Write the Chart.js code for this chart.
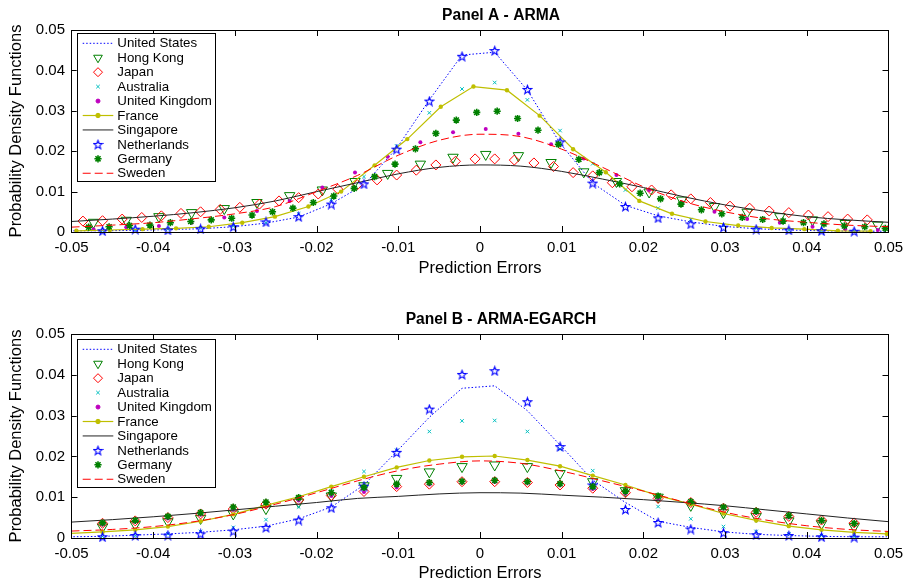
<!DOCTYPE html>
<html>
<head>
<meta charset="utf-8">
<title>Prediction error densities</title>
<script src="https://cdn.jsdelivr.net/npm/chart.js@4.4.0/dist/chart.umd.min.js"></script>
<style>
  html, body { margin: 0; padding: 0; background: #fff; overflow: hidden; }
  canvas { position: absolute; left: 0; }
</style>
</head>
<body>
<canvas id="panelA" width="912" height="292" style="top:0px"></canvas>
<canvas id="panelB" width="912" height="293" style="top:292px"></canvas>
<script>
// Axis ticks
const X_TICKS = [-0.05, -0.04, -0.03, -0.02, -0.01, 0, 0.01, 0.02, 0.03, 0.04, 0.05];
const Y_TICKS = [0, 0.01, 0.02, 0.03, 0.04, 0.05];

// Evaluation grids (prediction error values)
const GRID_N = [-0.0502, -0.0462, -0.0422, -0.0382, -0.0342, -0.0302, -0.0262, -0.0222, -0.0182, -0.0142, -0.0102, -0.0062, -0.0022,
  0.0018, 0.0058, 0.0098, 0.0138, 0.0178, 0.0218, 0.0258, 0.0298, 0.0338, 0.0378, 0.0418, 0.0458, 0.0498];
const GRID_H = [-0.0473, -0.0433, -0.0393, -0.0353, -0.0313, -0.0273, -0.0233, -0.0193, -0.0153, -0.0113, -0.0073, -0.0033,
  0.0007, 0.0047, 0.0087, 0.0127, 0.0167, 0.0207, 0.0247, 0.0287, 0.0327, 0.0367, 0.0407, 0.0447, 0.0487];
const GRID_J = [-0.0486, -0.0462, -0.0438, -0.0414, -0.0390, -0.0366, -0.0342, -0.0318, -0.0294, -0.0270, -0.0246, -0.0222, -0.0198,
  -0.0174, -0.0150, -0.0126, -0.0102, -0.0078, -0.0054, -0.0030, -0.0006, 0.0018, 0.0042, 0.0066, 0.0090, 0.0114, 0.0138,
  0.0162, 0.0186, 0.0210, 0.0234, 0.0258, 0.0282, 0.0306, 0.0330, 0.0354, 0.0378, 0.0402, 0.0426, 0.0450, 0.0474];
const GRID_G = [-0.0479, -0.0454, -0.0429, -0.0404, -0.0379, -0.0354, -0.0329, -0.0304, -0.0279, -0.0254, -0.0229, -0.0204, -0.0179,
  -0.0154, -0.0129, -0.0104, -0.0079, -0.0054, -0.0029, -0.0004, 0.0021, 0.0046, 0.0071, 0.0096, 0.0121, 0.0146, 0.0171,
  0.0196, 0.0221, 0.0246, 0.0271, 0.0296, 0.0321, 0.0346, 0.0371, 0.0396, 0.0421, 0.0446, 0.0471, 0.0496];
const GRID_F = [-0.0494, -0.0453, -0.0413, -0.0372, -0.0332, -0.0291, -0.0251, -0.0210, -0.0170, -0.0129, -0.0089, -0.0048,
  -0.0008, 0.0033, 0.0073, 0.0114, 0.0154, 0.0195, 0.0235, 0.0276, 0.0316, 0.0357, 0.0397, 0.0438, 0.0478];
const GRID_S = [-0.050, -0.045, -0.040, -0.035, -0.030, -0.025, -0.020, -0.015, -0.010, -0.005, 0,
  0.005, 0.010, 0.015, 0.020, 0.025, 0.030, 0.035, 0.040, 0.045, 0.050];

// Panel A - ARMA densities
const A_US = [0.0003, 0.0003, 0.0004, 0.0006, 0.0008, 0.0013, 0.0022, 0.0037, 0.0070, 0.0117, 0.0207, 0.0327, 0.0438,
  0.0445, 0.0351, 0.0220, 0.0121, 0.0066, 0.0040, 0.0025, 0.0014, 0.0008, 0.0005, 0.0003, 0.0002, 0.0002];
const A_HONG_KONG = [0.0024, 0.0029, 0.0038, 0.0048, 0.0058, 0.0073, 0.0090, 0.0104, 0.0125, 0.0145, 0.0168, 0.0185,
  0.0192, 0.0189, 0.0172, 0.0149, 0.0125, 0.0099, 0.0079, 0.0063, 0.0049, 0.0038, 0.0030, 0.0021, 0.0017];
const A_JAPAN = [0.0027, 0.0028, 0.0032, 0.0036, 0.0040, 0.0046, 0.0050, 0.0056, 0.0061, 0.0069, 0.0077, 0.0085, 0.0094,
  0.0106, 0.0117, 0.0129, 0.0141, 0.0153, 0.0166, 0.0175, 0.0181, 0.0181, 0.0178, 0.0171, 0.0162, 0.0147, 0.0139,
  0.0122, 0.0112, 0.0104, 0.0092, 0.0082, 0.0073, 0.0064, 0.0059, 0.0052, 0.0048, 0.0042, 0.0038, 0.0032, 0.0030];
const A_AUSTRALIA = [null, 0.0004, 0.0005, 0.0007, 0.0010, 0.0015, 0.0023, 0.0045, 0.0080, 0.0137, 0.0213, 0.0295, 0.0354,
  0.0370, 0.0327, 0.0251, 0.0169, 0.0104, 0.0059, 0.0031, 0.0016, 0.0009, 0.0005, 0.0003, 0.0002, null];
const A_UK = [0.0007, 0.0012, 0.0015, 0.0023, 0.0036, 0.0052, 0.0077, 0.0110, 0.0147, 0.0186, 0.0222, 0.0247,
  0.0255, 0.0243, 0.0217, 0.0182, 0.0141, 0.0104, 0.0073, 0.0050, 0.0032, 0.0023, 0.0013, 0.0007, 0.0005];
const A_FRANCE = [0.0003, 0.0005, 0.0007, 0.0009, 0.0013, 0.0023, 0.0038, 0.0063, 0.0100, 0.0165, 0.0230, 0.0310,
  0.0360, 0.0351, 0.0288, 0.0205, 0.0148, 0.0077, 0.0045, 0.0026, 0.0016, 0.0010, 0.0007, 0.0003, 0.0002];
const A_SINGAPORE = [0.0026, 0.0032, 0.0039, 0.0048, 0.0060, 0.0077, 0.0100, 0.0122, 0.0144, 0.0160, 0.0166,
  0.0163, 0.0150, 0.0131, 0.0110, 0.0087, 0.0067, 0.0051, 0.0038, 0.0030, 0.0024];
const A_NETHERLANDS = [null, 0.0003, 0.0007, 0.0005, 0.0008, 0.0013, 0.0025, 0.0038, 0.0069, 0.0119, 0.0205, 0.0324, 0.0435,
  0.0449, 0.0353, 0.0223, 0.0121, 0.0063, 0.0035, 0.0020, 0.0012, 0.0007, 0.0005, 0.0003, 0.0002, null];
const A_GERMANY = [0.0012, 0.0013, 0.0016, 0.0017, 0.0023, 0.0026, 0.0030, 0.0034, 0.0042, 0.0050, 0.0059, 0.0073, 0.0089,
  0.0108, 0.0137, 0.0168, 0.0206, 0.0244, 0.0277, 0.0296, 0.0299, 0.0281, 0.0252, 0.0217, 0.0180, 0.0147, 0.0119,
  0.0096, 0.0082, 0.0069, 0.0055, 0.0045, 0.0036, 0.0031, 0.0027, 0.0023, 0.0020, 0.0015, 0.0013, 0.0009];
const A_SWEDEN = [0.0012, 0.0017, 0.0023, 0.0033, 0.0045, 0.0063, 0.0100, 0.0140, 0.0190, 0.0227, 0.0242,
  0.0236, 0.0205, 0.0160, 0.0112, 0.0075, 0.0050, 0.0033, 0.0024, 0.0017, 0.0013];

// Panel B - ARMA-EGARCH densities (all on GRID_N, except the smooth lines on GRID_S)
const B_US = [0.0003, 0.0004, 0.0007, 0.0010, 0.0014, 0.0020, 0.0029, 0.0047, 0.0076, 0.0130, 0.0212, 0.0296, 0.0367,
  0.0373, 0.0312, 0.0228, 0.0142, 0.0087, 0.0041, 0.0026, 0.0015, 0.0009, 0.0006, 0.0004, 0.0003, 0.0003];
const B_HONG_KONG = [null, 0.0027, 0.0033, 0.0040, 0.0048, 0.0059, 0.0072, 0.0088, 0.0103, 0.0128, 0.0146, 0.0162, 0.0175,
  0.0179, 0.0175, 0.0158, 0.0138, 0.0116, 0.0100, 0.0080, 0.0062, 0.0053, 0.0042, 0.0035, 0.0028, null];
const B_JAPAN = [null, 0.0036, 0.0042, 0.0050, 0.0059, 0.0071, 0.0083, 0.0093, 0.0104, 0.0114, 0.0126, 0.0132, 0.0138,
  0.0138, 0.0136, 0.0130, 0.0122, 0.0111, 0.0097, 0.0087, 0.0073, 0.0063, 0.0053, 0.0044, 0.0037, null];
const B_AUSTRALIA = [null, 0.0004, 0.0006, 0.0010, 0.0016, 0.0026, 0.0045, 0.0076, 0.0115, 0.0163, 0.0215, 0.0261, 0.0287,
  0.0288, 0.0261, 0.0218, 0.0165, 0.0115, 0.0077, 0.0047, 0.0028, 0.0016, 0.0010, 0.0006, 0.0004, null];
const B_UK = [null, 0.0033, 0.0040, 0.0048, 0.0057, 0.0069, 0.0081, 0.0092, 0.0103, 0.0113, 0.0124, 0.0131, 0.0136,
  0.0137, 0.0135, 0.0129, 0.0120, 0.0109, 0.0096, 0.0085, 0.0072, 0.0061, 0.0051, 0.0042, 0.0035, null];
const B_FRANCE = [0.0011, 0.0015, 0.0020, 0.0028, 0.0041, 0.0058, 0.0080, 0.0101, 0.0126, 0.0150, 0.0173, 0.0190, 0.0199,
  0.0201, 0.0191, 0.0176, 0.0153, 0.0130, 0.0104, 0.0083, 0.0060, 0.0043, 0.0029, 0.0020, 0.0014, 0.0010];
const B_SINGAPORE = [0.0039, 0.0045, 0.0052, 0.0060, 0.0069, 0.0078, 0.0087, 0.0097, 0.0102, 0.0108, 0.0111,
  0.0110, 0.0105, 0.0100, 0.0094, 0.0087, 0.0079, 0.0069, 0.0059, 0.0049, 0.0040];
const B_NETHERLANDS = [null, 0.0003, 0.0006, 0.0007, 0.0010, 0.0017, 0.0026, 0.0044, 0.0074, 0.0127, 0.0210, 0.0316, 0.0401,
  0.0410, 0.0334, 0.0224, 0.0130, 0.0070, 0.0038, 0.0022, 0.0013, 0.0008, 0.0006, 0.0003, 0.0002, null];
const B_GERMANY = [null, 0.0037, 0.0043, 0.0053, 0.0062, 0.0076, 0.0088, 0.0099, 0.0111, 0.0124, 0.0132, 0.0136, 0.0139,
  0.0141, 0.0138, 0.0133, 0.0126, 0.0115, 0.0103, 0.0089, 0.0076, 0.0066, 0.0055, 0.0043, 0.0036, null];
const B_SWEDEN = [0.0017, 0.0021, 0.0028, 0.0040, 0.0058, 0.0083, 0.0111, 0.0140, 0.0165, 0.0181, 0.0189,
  0.0183, 0.0164, 0.0140, 0.0115, 0.0088, 0.0063, 0.0044, 0.0030, 0.0021, 0.0016];

const FONT = "'Liberation Sans', Arial, Helvetica, sans-serif";
Chart.defaults.font.family = FONT;
Chart.defaults.color = '#000';

// Five-pointed hollow star used for the Netherlands markers
function makePentagram(color, size) {
  const c = document.createElement('canvas');
  c.width = size;
  c.height = size;
  const g = c.getContext('2d');
  const cx = size / 2, cy = size / 2 + 0.5, r = size / 2 - 1;
  g.beginPath();
  for (let i = 0; i < 10; i++) {
    const rad = i % 2 ? r * 0.42 : r;
    const a = -Math.PI / 2 + i * Math.PI / 5;
    const px = cx + rad * Math.cos(a), py = cy + rad * Math.sin(a);
    if (i === 0) g.moveTo(px, py); else g.lineTo(px, py);
  }
  g.closePath();
  g.strokeStyle = color;
  g.lineWidth = 1.1;
  g.stroke();
  return c;
}
const STAR = makePentagram('#0000ff', 11);

// Pair x grid with y values, dropping empty slots
function pts(xs, ys) {
  const out = [];
  xs.forEach((x, i) => {
    if (ys[i] !== null) out.push({ x: x, y: ys[i] });
  });
  return out;
}

// Series styles, in legend order
function buildDatasets(p) {
  const list = [
    { label: 'United States', data: pts(GRID_N, p.us), showLine: true, borderColor: '#0000ff', borderWidth: 1,
      borderDash: [1.5, 2], pointRadius: 0, legendRadius: 0 },
    { label: 'Hong Kong', data: pts(p.hkGrid, p.hk), showLine: false, borderColor: '#008000', backgroundColor: 'rgba(0,0,0,0)',
      pointStyle: 'triangle', pointRotation: 180, pointRadius: 6, pointBorderWidth: 1, legendRadius: 5 },
    { label: 'Japan', data: pts(p.jpGrid, p.jp), showLine: false, borderColor: '#ff0000', backgroundColor: 'rgba(0,0,0,0)',
      pointStyle: 'rectRot', pointRadius: 5, pointBorderWidth: 1, legendRadius: 4.5 },
    { label: 'Australia', data: pts(GRID_N, p.au), showLine: false, borderColor: '#00bfbf', backgroundColor: '#00bfbf',
      pointStyle: 'crossRot', pointRadius: 2.5, pointBorderWidth: 1, legendRadius: 2.5 },
    { label: 'United Kingdom', data: pts(p.hkGrid === GRID_N ? GRID_N : GRID_H, p.uk), showLine: false, borderColor: '#bf00bf',
      backgroundColor: '#bf00bf', pointStyle: 'circle', pointRadius: 2, pointBorderWidth: 0, legendRadius: 2 },
    { label: 'France', data: pts(p.frGrid, p.fr), showLine: true, borderColor: '#bfbf00', backgroundColor: '#bfbf00',
      borderWidth: 1.2, pointStyle: 'circle', pointRadius: c => (Math.abs(c.raw.x) > 0.05 ? 0 : 2.2), pointBorderWidth: 0,
      legendRadius: 2.2 },
    { label: 'Singapore', data: pts(GRID_S, p.sg), showLine: true, borderColor: '#222222', borderWidth: 1,
      cubicInterpolationMode: 'monotone', pointRadius: 0, legendRadius: 0 },
    { label: 'Netherlands', data: pts(GRID_N, p.nl), showLine: false, borderColor: '#0000ff', backgroundColor: 'rgba(0,0,0,0)',
      pointStyle: STAR, pointRadius: 6, legendRadius: 6 },
    { label: 'Germany', data: pts(p.deGrid, p.de), showLine: false, borderColor: '#008000', backgroundColor: '#008000',
      pointStyle: 'star', pointRadius: 3.6, pointBorderWidth: 1.6, legendRadius: 3.6 },
    { label: 'Sweden', data: pts(GRID_S, p.se), showLine: true, borderColor: '#ff0000', borderWidth: 1,
      borderDash: [8, 4], cubicInterpolationMode: 'monotone', pointRadius: 0, legendRadius: 0 }
  ];
  list.forEach((d, i) => {
    d.order = -i;
    d.clip = { left: 0, right: 0, top: 6, bottom: 8 };
    if (d.pointBorderColor === undefined) d.pointBorderColor = d.borderColor;
    if (d.pointBackgroundColor === undefined) d.pointBackgroundColor = d.backgroundColor;
  });
  return list;
}

// Axes box with inward ticks, panel title and the boxed legend
const framePlugin = {
  id: 'frame',
  afterDatasetsDraw(chart, args, opts) {
    const { ctx, chartArea: a, scales: { x, y } } = chart;
    const tick = 6;
    ctx.save();
    ctx.strokeStyle = '#000';
    ctx.lineWidth = 1;
    ctx.setLineDash([]);
    ctx.beginPath();
    X_TICKS.slice(1, -1).forEach(v => {
      const px = Math.round(x.getPixelForValue(v)) + 0.5;
      ctx.moveTo(px, a.bottom); ctx.lineTo(px, a.bottom - tick);
      ctx.moveTo(px, a.top); ctx.lineTo(px, a.top + tick);
    });
    Y_TICKS.slice(1, -1).forEach(v => {
      const py = Math.round(y.getPixelForValue(v)) + 0.5;
      ctx.moveTo(a.left, py); ctx.lineTo(a.left + tick, py);
      ctx.moveTo(a.right, py); ctx.lineTo(a.right - tick, py);
    });
    ctx.stroke();
    ctx.strokeRect(a.left, a.top + 0.5, a.right - a.left, a.bottom - a.top);

    // Panel title
    ctx.fillStyle = '#000';
    ctx.font = 'bold 15.6px ' + FONT;
    ctx.textAlign = 'center';
    ctx.textBaseline = 'middle';
    ctx.fillText(opts.title, 501, a.top - 14.5);

    // Legend
    const bx = a.left + 5.2, by = a.top + opts.legendTop;
    const bw = 138.3, bh = 147.7, step = 14.44;
    ctx.fillStyle = '#fff';
    ctx.fillRect(bx, by, bw, bh);
    ctx.strokeRect(Math.round(bx) + 0.5, Math.round(by) + 0.5, Math.round(bw), Math.round(bh));
    ctx.font = '13.3px ' + FONT;
    ctx.textAlign = 'left';
    chart.data.datasets.forEach((d, i) => {
      const cy = by + 10 + i * step;
      const x0 = bx + 6, x1 = bx + 36.6, xm = bx + 21.3;
      if (d.showLine) {
        ctx.save();
        ctx.strokeStyle = d.borderColor;
        ctx.lineWidth = d.borderWidth;
        ctx.setLineDash(d.borderDash || []);
        ctx.beginPath();
        ctx.moveTo(x0, cy); ctx.lineTo(x1, cy);
        ctx.stroke();
        ctx.restore();
      }
      if (d.legendRadius > 0) {
        ctx.save();
        ctx.strokeStyle = d.pointBorderColor;
        ctx.fillStyle = d.pointBackgroundColor;
        ctx.lineWidth = d.pointBorderWidth === undefined ? 1 : d.pointBorderWidth;
        Chart.helpers.drawPoint(ctx, {
          pointStyle: d.pointStyle,
          rotation: d.pointRotation || 0,
          radius: d.legendRadius,
          borderWidth: ctx.lineWidth
        }, xm, cy);
        ctx.restore();
      }
      ctx.fillStyle = '#000';
      ctx.textBaseline = 'middle';
      ctx.fillText(d.label, bx + 40.6, cy + 0.5);
    });
    ctx.restore();
  }
};

function fmtTick(v) {
  return v === 0 ? '0' : v.toFixed(2);
}

function drawPanel(id, panel, series) {
  const canvas = document.getElementById(id);
  return new Chart(canvas, {
    type: 'scatter',
    data: { datasets: buildDatasets(series) },
    plugins: [framePlugin],
    options: {
      responsive: false,
      animation: false,
      devicePixelRatio: 1,
      layout: { padding: { top: panel.plotTop, right: 23.5, left: 0, bottom: 0 } },
      plugins: {
        legend: { display: false },
        tooltip: { enabled: false },
        frame: { title: panel.title, legendTop: panel.legendTop }
      },
      scales: {
        x: {
          type: 'linear',
          min: -0.05,
          max: 0.05,
          grid: { display: false, drawTicks: false },
          border: { display: false },
          afterBuildTicks: s => { s.ticks = X_TICKS.map(v => ({ value: v })); },
          afterFit: s => { s.height = canvas.height - panel.plotBottom; },
          ticks: { padding: 7, autoSkip: false, maxRotation: 0, font: { size: 15 }, callback: fmtTick },
          title: {
            display: true, text: 'Prediction Errors', font: { size: 16.5 },
            padding: { top: 0, bottom: canvas.height - panel.xTitleY - 9.9 }
          }
        },
        y: {
          type: 'linear',
          min: 0,
          max: 0.05,
          grid: { display: false, drawTicks: false },
          border: { display: false },
          afterBuildTicks: s => { s.ticks = Y_TICKS.map(v => ({ value: v })); },
          afterFit: s => { s.width = 71.5; },
          ticks: { padding: 6.5, font: { size: 15 }, callback: fmtTick },
          title: {
            display: true, text: 'Probability Density Functions', font: { size: 16.5 },
            padding: { top: 7, bottom: 0 }
          }
        }
      }
    }
  });
}

drawPanel('panelA',
  { plotTop: 30, plotBottom: 232, xTitleY: 268.3, title: 'Panel A - ARMA', legendTop: 3.3 },
  { us: A_US, hk: A_HONG_KONG, hkGrid: GRID_H, jp: A_JAPAN, jpGrid: GRID_J, au: A_AUSTRALIA, uk: A_UK,
    fr: A_FRANCE, frGrid: GRID_F, sg: A_SINGAPORE, nl: A_NETHERLANDS, de: A_GERMANY, deGrid: GRID_G, se: A_SWEDEN });

drawPanel('panelB',
  { plotTop: 42, plotBottom: 246, xTitleY: 281, title: 'Panel B - ARMA-EGARCH', legendTop: 5.3 },
  { us: B_US, hk: B_HONG_KONG, hkGrid: GRID_N, jp: B_JAPAN, jpGrid: GRID_N, au: B_AUSTRALIA, uk: B_UK,
    fr: B_FRANCE, frGrid: GRID_N, sg: B_SINGAPORE, nl: B_NETHERLANDS, de: B_GERMANY, deGrid: GRID_N, se: B_SWEDEN });
</script>
</body>
</html>
